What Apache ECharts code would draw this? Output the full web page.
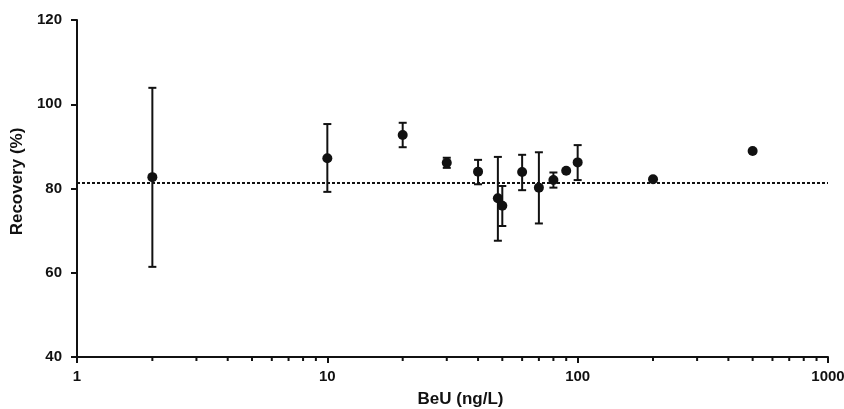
<!DOCTYPE html>
<html>
<head>
	<meta charset="utf-8">
	<title>Recovery vs BeU</title>
	<script src="https://cdn.jsdelivr.net/npm/echarts@6/dist/echarts.min.js"></script>
	<style>
		html, body { margin: 0; padding: 0; background: #fff; }
		#main { width: 844px; height: 409px; }
	</style>
</head>
<body>
	<div id="main"></div>
	<script type="text/javascript">
		// data
		var conc = [2, 10, 20, 30, 40, 48, 50, 60, 70, 80, 90, 100, 200, 500];
		var recovery = [82.7, 87.2, 92.7, 86.1, 84.0, 77.7, 75.9, 83.9, 80.2, 82.0, 84.2, 86.2, 82.2, 88.9];
		var errLow = [61.4, 79.2, 89.8, 84.9, 81.0, 67.6, 71.1, 79.6, 71.7, 80.2, null, 82.0, null, null];
		var errHigh = [103.9, 95.3, 95.6, 87.3, 86.8, 87.5, 80.6, 88.0, 88.6, 83.8, null, 90.3, null, null];
		var meanRecovery = 81.4;
		var minorTicks = [2, 3, 4, 5, 6, 7, 8, 9, 20, 30, 40, 50, 60, 70, 80, 90, 200, 300, 400, 500, 600, 700, 800, 900];

		var font = 'Liberation Sans, Arial, sans-serif';
		var ink = '#111';

		var points = conc.map(function (c, i) { return [c, recovery[i]]; });
		var bars = [];
		conc.forEach(function (c, i) {
			if (errLow[i] != null) bars.push([c, errLow[i], errHigh[i]]);
		});

		var myChart = echarts.init(document.getElementById('main'));

		var option = {
			animation: false,
			grid: { left: 77, right: 16, top: 20, bottom: 52, outerBoundsMode: 'none' },
			xAxis: {
				type: 'log',
				logBase: 10,
				min: 1,
				max: 1000,
				name: 'BeU (ng/L)',
				nameLocation: 'middle',
				nameGap: 34,
				nameTextStyle: { color: ink, fontFamily: font, fontWeight: 'bold', fontSize: 17, padding: [0, 0, 0, 16] },
				axisLine: { lineStyle: { color: ink, width: 2 } },
				axisTick: { inside: false, length: 6, lineStyle: { color: ink, width: 2 } },
				axisLabel: {
					color: ink, fontFamily: font, fontWeight: 'bold', fontSize: 15, margin: 12,
					formatter: function (v) { return String(Math.round(v)); }
				},
				splitLine: { show: false }
			},
			yAxis: {
				type: 'value',
				min: 40,
				max: 120,
				interval: 20,
				name: 'Recovery (%)',
				nameLocation: 'middle',
				nameGap: 49,
				nameTextStyle: { color: ink, fontFamily: font, fontWeight: 'bold', fontSize: 17, padding: [0, 0, 0, 14] },
				axisLine: { show: true, lineStyle: { color: ink, width: 2 } },
				axisTick: { show: true, length: 6, lineStyle: { color: ink, width: 2 } },
				axisLabel: { color: ink, fontFamily: font, fontWeight: 'bold', fontSize: 15, margin: 15 },
				splitLine: { show: false }
			},
			series: [
				{
					// minor ticks of the log axis
					type: 'custom',
					silent: true,
					clip: false,
					data: minorTicks.map(function (v) { return [v, 40]; }),
					renderItem: function (params, api) {
						var p = api.coord([api.value(0), api.value(1)]);
						return {
							type: 'line',
							shape: { x1: p[0], y1: p[1], x2: p[0], y2: p[1] + 4 },
							style: { stroke: ink, lineWidth: 2 }
						};
					}
				},
				{
					// error bars
					type: 'custom',
					silent: true,
					data: bars,
					renderItem: function (params, api) {
						var lo = api.coord([api.value(0), api.value(1)]);
						var hi = api.coord([api.value(0), api.value(2)]);
						var w = 4;
						var st = { stroke: ink, lineWidth: 2 };
						return {
							type: 'group',
							children: [
								{ type: 'line', shape: { x1: lo[0], y1: lo[1], x2: hi[0], y2: hi[1] }, style: st },
								{ type: 'line', shape: { x1: hi[0] - w, y1: hi[1], x2: hi[0] + w, y2: hi[1] }, style: st },
								{ type: 'line', shape: { x1: lo[0] - w, y1: lo[1], x2: lo[0] + w, y2: lo[1] }, style: st }
							]
						};
					}
				},
				{
					type: 'scatter',
					symbol: 'circle',
					symbolSize: 10,
					itemStyle: { color: ink, opacity: 1 },
					data: points,
					markLine: {
						silent: true,
						symbol: 'none',
						label: { show: false },
						lineStyle: { color: ink, type: [3, 2], width: 2 },
						data: [{ yAxis: meanRecovery }]
					}
				}
			]
		};

		myChart.setOption(option);
	</script>
</body>
</html>
